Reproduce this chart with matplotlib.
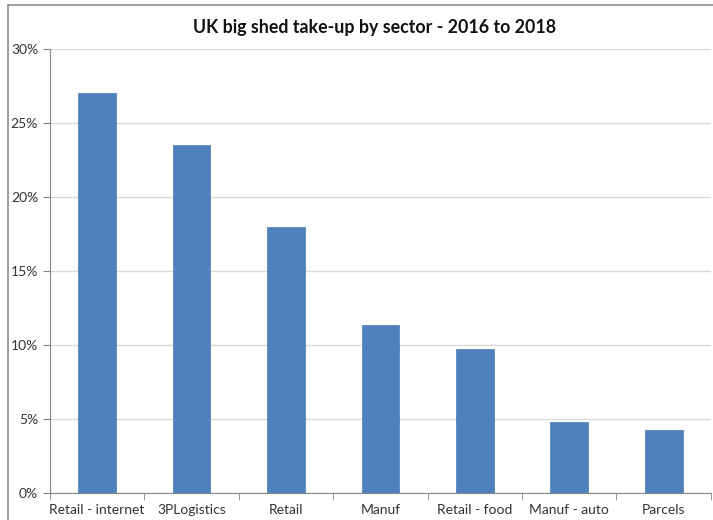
import matplotlib.pyplot as plt
import numpy as np
from matplotlib.lines import Line2D
from matplotlib.ticker import FuncFormatter

sectors = ["Retail - internet", "3PLogistics", "Retail", "Manuf",
           "Retail - food", "Manuf - auto", "Parcels"]
share = [27.0, 23.5, 18.0, 11.35, 9.7, 4.8, 4.25]

plt.rcParams['font.family'] = ['Lato', 'DejaVu Sans']

fig = plt.figure(figsize=(7.13, 5.20), dpi=100)
ax = fig.add_axes([0.070, 0.052, 0.927, 0.854])

x = np.arange(len(sectors))
ax.bar(x, share, width=0.4, color="#4F81BD", edgecolor="#4A7AB5", linewidth=0.5, zorder=3)

ax.set_ylim(0, 30)
ax.set_xlim(-0.5, len(sectors) - 0.5)
ax.set_yticks(np.arange(0, 31, 5))
ax.yaxis.set_major_formatter(FuncFormatter(lambda v, p: f"{v:.0f}%"))
ax.yaxis.grid(True, color="#d9d9d9", linewidth=1, zorder=0)
ax.set_axisbelow(True)

ax.set_xticks(x)
ax.set_xticklabels(sectors)
ax.set_xticks(np.arange(-0.5, len(sectors), 1), minor=True)
ax.tick_params(axis="x", which="major", length=0, pad=8, labelsize=10, colors="#333333")
ax.tick_params(axis="x", which="minor", length=5, color="#868686", direction="out")
ax.tick_params(axis="y", length=5, color="#868686", labelsize=10, labelcolor="#333333")

for s in ["top", "right"]:
    ax.spines[s].set_visible(False)
ax.spines["left"].set_color("#868686")
ax.spines["bottom"].set_color("#868686")

fig.text(0.525, 0.948, "UK big shed take-up by sector - 2016 to 2018",
         ha="center", va="center", fontsize=12.8, fontweight="bold", color="#111111")

# outer frame: only top and left edges visible in the crop
fig.lines.append(Line2D([0.011, 1.0], [0.991, 0.991], transform=fig.transFigure,
                        color="#8c8c8c", linewidth=1.2))
fig.lines.append(Line2D([0.011, 0.011], [0.0, 0.991], transform=fig.transFigure,
                        color="#8c8c8c", linewidth=1.2))

fig.savefig("out.png", dpi=100)
